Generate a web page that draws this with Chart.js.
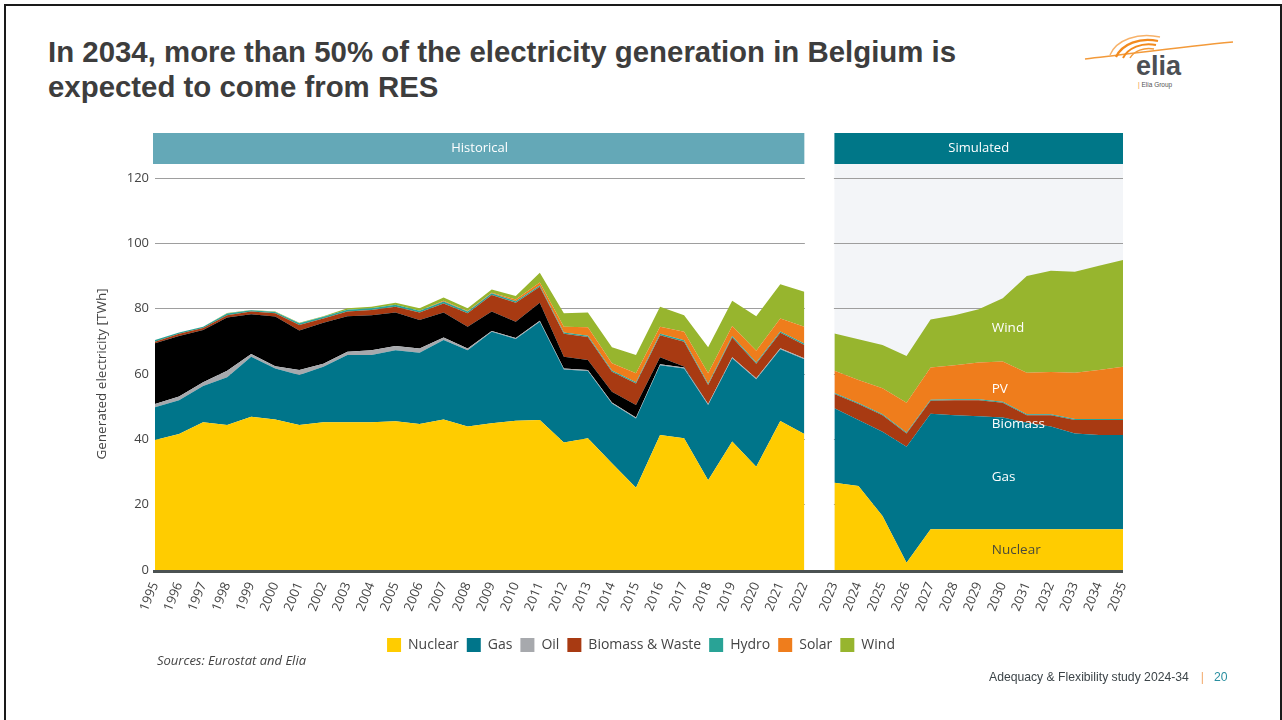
<!DOCTYPE html>
<html>
<head>
<meta charset="utf-8">
<script src="https://cdn.jsdelivr.net/npm/chart.js@4"></script>
<style>
  html, body { margin: 0; padding: 0; background: #fff; }
  body { width: 1282px; height: 720px; position: relative; overflow: hidden; font-family: "Liberation Sans", Arial, sans-serif; }
  .frame { position: absolute; left: 4px; top: 4px; width: 1274px; height: 740px; border: 2px solid #1a1a1a; border-bottom: none; }
  h1 { position: absolute; left: 48px; top: 34px; margin: 0; font-size: 29.4px; line-height: 35px; font-weight: bold; color: #3d3d3d; }
  #chart { position: absolute; left: 0; top: 0; }
  .src { position: absolute; left: 157px; top: 651px; font-family: "Open Sans", sans-serif; font-style: italic; font-size: 13px; color: #444; }
  .foot { position: absolute; left: 989px; top: 670px; font-size: 12.2px; color: #3c4448; }
  .foot .bar { color: #f2a96a; margin: 0 10px 0 12px; }
  .foot .pg { color: #2a8fa0; }
  .logo { position: absolute; left: 1080px; top: 28px; width: 160px; height: 70px; }
</style>
</head>
<body>
<div class="frame"></div>
<h1>In 2034, more than 50% of the electricity generation in Belgium is<br>expected to come from RES</h1>

<svg class="logo" viewBox="0 0 160 70">
  <path d="M5 31 C 50 26, 100 19, 153 14" stroke="#f39a3a" stroke-width="1.5" fill="none"/>
  <path d="M30 27 C 36 12, 58 4, 80 9" stroke="#f7b26a" stroke-width="1.4" fill="none"/>
  <path d="M36 29 C 42 16, 60 9, 78 13" stroke="#f28a1e" stroke-width="2.2" fill="none"/>
  <path d="M43 30 C 48 20, 62 14, 76 17" stroke="#f28a1e" stroke-width="2" fill="none"/>
  <path d="M50 30 C 54 23, 64 19, 74 21" stroke="#f39a3a" stroke-width="1.5" fill="none"/>
  <text x="56" y="47" font-family="Liberation Sans, Arial" font-weight="bold" font-size="27" fill="#4b4f54">elia</text>
  <text x="58" y="59" font-family="Liberation Sans, Arial" font-size="6.5" fill="#555"><tspan fill="#f28a1e">|</tspan> Elia Group</text>
</svg>

<canvas id="chart" width="1282" height="720"></canvas>

<div class="src">Sources: Eurostat and Elia</div>
<div class="foot">Adequacy &amp; Flexibility study 2024-34<span class="bar">|</span><span class="pg">20</span></div>

<script>
// anos
var histYears = [1995,1996,1997,1998,1999,2000,2001,2002,2003,2004,2005,2006,2007,2008,2009,2010,2011,2012,2013,2014,2015,2016,2017,2018,2019,2020,2021,2022];
var simYears = [2023,2024,2025,2026,2027,2028,2029,2030,2031,2032,2033,2034,2035];

// historico [TWh]
var histNuclear = [39.8,41.6,45.2,44.4,46.9,46.1,44.4,45.2,45.2,45.2,45.5,44.7,46.1,43.9,44.9,45.7,45.9,39.0,40.3,32.7,25.2,41.3,40.3,27.5,39.3,31.6,45.6,41.6];
var histGas     = [10.0,10.4,11.1,14.6,18.4,15.6,15.3,17.0,20.6,20.6,21.8,21.8,24.3,23.4,28.0,25.0,30.1,22.4,20.6,18.3,21.2,21.4,21.4,23.0,25.5,26.8,22.0,22.9];
var histOil     = [1.0,1.1,1.2,2.0,0.8,0.7,1.5,0.9,1.0,1.5,1.3,1.3,0.8,0.5,0.3,0.3,0.3,0.3,0.3,0.3,0.3,0.3,0.3,0.3,0.3,0.3,0.3,0.3];
var histCoal    = [18.6,18.5,16.0,16.3,12.2,15.2,12.1,12.6,10.9,10.7,10.2,8.7,7.6,6.7,5.9,5.0,5.5,3.6,3.1,3.3,3.8,2.1,0.3,0,0,0,0,0];
var histBiomass = [0.5,0.7,0.6,0.7,0.8,1.0,1.7,1.3,1.4,1.6,1.8,2.3,2.8,4.1,5.1,5.8,4.9,7.0,7.0,6.1,6.6,6.8,7.6,5.8,6.1,4.4,4.7,4.1];
var histHydro   = [0.5,0.4,0.4,0.5,0.4,0.4,0.5,0.5,0.6,0.5,0.6,0.6,0.6,0.5,0.5,0.5,0.4,0.4,0.4,0.4,0.4,0.4,0.4,0.4,0.4,0.4,0.4,0.4];
var histSolar   = [0,0,0,0,0,0,0,0,0,0,0,0,0.2,0.2,0.2,0.5,0.9,1.8,2.6,2.2,2.7,2.2,2.6,3.2,3.1,3.6,4.0,5.2];
var histWind    = [0,0,0,0.2,0.1,0.1,0.2,0.2,0.4,0.5,0.6,0.7,1.0,0.8,1.0,1.1,3.0,4.1,4.5,4.9,5.6,6.1,5.1,8.0,7.7,10.6,10.5,10.7];

// simulado [TWh]
var simNuclear = [26.7,25.7,16.5,2.2,12.5,12.5,12.5,12.5,12.5,12.5,12.5,12.5,12.5];
var simGas     = [22.8,20.2,25.8,35.5,35.3,34.9,34.6,34.2,32.6,31.4,29.3,28.8,28.8];
var simBiomass = [4.4,4.9,5.1,4.1,4.0,4.6,4.9,4.5,2.3,3.5,4.1,4.6,4.6];
var simHydro   = [0.3,0.3,0.3,0.3,0.3,0.3,0.3,0.3,0.3,0.3,0.3,0.3,0.3];
var simPV      = [6.8,7.1,7.9,9.1,9.9,10.4,11.2,12.3,12.7,12.9,14.2,15.0,16.0];
var simWind    = [11.4,12.4,13.3,14.3,14.7,15.3,16.3,19.4,29.6,31.0,30.9,31.9,32.7];

// rotulos dentro da area simulada: [texto, ano, valor]
var areaLabels = [["Wind", 2030, 74], ["PV", 2030, 55.4], ["Biomass", 2030, 44.6], ["Gas", 2030, 28.5], ["Nuclear", 2030, 6.1]];

var yTicks = [0, 20, 40, 60, 80, 100, 120];

var cores = {
  nuclear: "#ffcc00", gas: "#00758a", oil: "#a7a9ad", coal: "#000000",
  biomass: "#a83a12", hydro: "#29a396", solar: "#ef7d1c", wind: "#97b52e"
};

// posicao no eixo x (espaco extra entre 2022 e 2023)
var gapShift = 0.25;
function posDoAno(ano) {
  var p = ano - 1995;
  if (ano >= 2023) p += gapShift;
  return p;
}
var allYears = histYears.concat(simYears);
var tickPos = allYears.map(posDoAno);

function serie(anos, valores) {
  return anos.map(function(a, i) { return { x: posDoAno(a), y: valores[i] }; });
}

function camada(label, anos, valores, cor, stack, fill, noLegend) {
  return {
    label: label,
    data: serie(anos, valores),
    backgroundColor: cor,
    borderColor: cor,
    borderWidth: 0,
    pointRadius: 0,
    tension: 0,
    fill: fill,
    stack: stack,
    inLegend: !noLegend
  };
}

var datasets = [
  camada("Nuclear", histYears, histNuclear, cores.nuclear, "h", "origin"),
  camada("Gas", histYears, histGas, cores.gas, "h", "-1"),
  camada("Oil", histYears, histOil, cores.oil, "h", "-1"),
  camada("Coal", histYears, histCoal, cores.coal, "h", "-1", true),
  camada("Biomass & Waste", histYears, histBiomass, cores.biomass, "h", "-1"),
  camada("Hydro", histYears, histHydro, cores.hydro, "h", "-1"),
  camada("Solar", histYears, histSolar, cores.solar, "h", "-1"),
  camada("Wind", histYears, histWind, cores.wind, "h", "-1"),
  camada("Nuclear sim", simYears, simNuclear, cores.nuclear, "s", "origin", true),
  camada("Gas sim", simYears, simGas, cores.gas, "s", "-1", true),
  camada("Biomass sim", simYears, simBiomass, cores.biomass, "s", "-1", true),
  camada("Hydro sim", simYears, simHydro, cores.hydro, "s", "-1", true),
  camada("PV sim", simYears, simPV, cores.solar, "s", "-1", true),
  camada("Wind sim", simYears, simWind, cores.wind, "s", "-1", true)
];

// fundos, cabecalhos e rotulos
var decoracao = {
  id: "decoracao",
  afterLayout: function(chart) {
    // centraliza a legenda na pagina
    var lg = chart.legend;
    var d = chart.width / 2 - (lg.left + lg.right) / 2;
    lg.left += d;
    lg.right += d;
  },
  beforeDraw: function(chart) {
    var ctx = chart.ctx, a = chart.chartArea, x = chart.scales.x;
    var s0 = x.getPixelForValue(posDoAno(2023));
    ctx.save();
    ctx.fillStyle = "#f3f5f8";
    ctx.fillRect(s0, a.top - 14, a.right - s0, a.bottom - a.top + 14);
    ctx.restore();
  },
  beforeDatasetsDraw: function(chart) {
    var ctx = chart.ctx, a = chart.chartArea, x = chart.scales.x;
    var h1 = x.getPixelForValue(posDoAno(2022));
    var s0 = x.getPixelForValue(posDoAno(2023));
    ctx.save();
    ctx.fillStyle = "#ffffff";
    ctx.fillRect(h1 + 0.5, a.top - 16, s0 - h1 - 1, a.bottom - a.top + 14);
    ctx.restore();
  },
  afterDatasetsDraw: function(chart) {
    var ctx = chart.ctx, a = chart.chartArea, x = chart.scales.x, y = chart.scales.y;
    var h1 = x.getPixelForValue(posDoAno(2022));
    var s0 = x.getPixelForValue(posDoAno(2023));
    ctx.save();
    // linha de base
    ctx.fillStyle = "#4b5252";
    ctx.fillRect(a.left - 2, a.bottom, a.right - a.left + 2, 3);
    // cabecalhos
    var top = a.top - 45, hh = 31;
    ctx.fillStyle = "#64a8b7";
    ctx.fillRect(a.left - 2, top, h1 - a.left + 2, hh);
    ctx.fillStyle = "#007788";
    ctx.fillRect(s0, top, a.right - s0, hh);
    ctx.fillStyle = "#ffffff";
    ctx.font = "13px 'Open Sans', sans-serif";
    ctx.textAlign = "center";
    ctx.textBaseline = "middle";
    ctx.fillText("Historical", (a.left + h1) / 2, top + hh / 2);
    ctx.fillText("Simulated", (s0 + a.right) / 2, top + hh / 2);
    // rotulos das areas
    ctx.textAlign = "left";
    ctx.font = "13.5px 'Open Sans', sans-serif";
    areaLabels.forEach(function(l) {
      ctx.fillStyle = l[0] === "Nuclear" ? "#4a4a3a" : "#ffffff";
      ctx.fillText(l[0], x.getPixelForValue(posDoAno(l[1])) - 11, y.getPixelForValue(l[2]));
    });
    ctx.restore();
  }
};

new Chart(document.getElementById("chart"), {
  type: "line",
  data: { datasets: datasets },
  plugins: [decoracao],
  options: {
    responsive: false,
    animation: false,
    layout: { padding: { left: 94, right: 159, top: 178, bottom: 58 } },
    plugins: {
      tooltip: { enabled: false },
      legend: {
        position: "bottom",
        labels: {
          boxWidth: 14,
          boxHeight: 14,
          padding: 8,
          color: "#444",
          font: { family: "'Open Sans', sans-serif", size: 14 },
          filter: function(item, data) { return data.datasets[item.datasetIndex].inLegend; }
        }
      }
    },
    scales: {
      x: {
        type: "linear",
        min: 0,
        max: posDoAno(2035),
        grid: { display: false },
        border: { display: false },
        afterBuildTicks: function(axis) {
          axis.ticks = tickPos.map(function(v) { return { value: v }; });
        },
        afterFit: function(axis) { axis.height = 60; },
        ticks: {
          autoSkip: false,
          minRotation: 68,
          maxRotation: 68,
          padding: 2,
          color: "#444",
          font: { family: "'Open Sans', sans-serif", size: 13 },
          callback: function(v, i) { return String(allYears[i]); }
        }
      },
      y: {
        stacked: true,
        min: 0,
        max: 120,
        afterBuildTicks: function(axis) {
          axis.ticks = yTicks.map(function(v) { return { value: v }; });
        },
        afterFit: function(axis) { axis.width = 155 - 94; },
        border: { display: false },
        grid: {
          drawTicks: false,
          color: function(c) { return c.tick.value === 0 ? "rgba(0,0,0,0)" : "#9e9e9e"; }
        },
        ticks: {
          padding: 6,
          color: "#444",
          font: { family: "'Open Sans', sans-serif", size: 13 }
        },
        title: {
          display: true,
          text: "Generated electricity [TWh]",
          color: "#444",
          padding: { top: 0, bottom: 6 },
          font: { family: "'Open Sans', sans-serif", size: 13.5 }
        }
      }
    }
  }
});
</script>
</body>
</html>
